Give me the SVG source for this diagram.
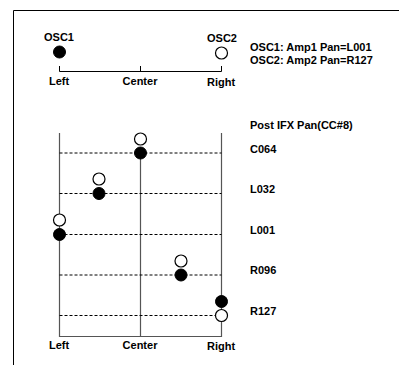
<svg xmlns="http://www.w3.org/2000/svg" width="399" height="365" viewBox="0 0 399 365">
<style>
text{font-family:"Liberation Sans",Arial,sans-serif;font-weight:bold;font-size:11px;fill:#000}
.m{text-anchor:middle}
.ln{stroke:#000;stroke-width:1;fill:none}
.ax{stroke:#555;stroke-width:1.2;fill:none}
.d{stroke:#000;stroke-width:1;stroke-dasharray:3,2;fill:none}
.f{fill:#000;stroke:#000;stroke-width:1}
.o{fill:#fff;stroke:#000;stroke-width:1.2}
</style>
<rect width="399" height="365" fill="#fff"/>
<g id="frame">
<path class="ln" d="M13.5,365 V10.5 H399" stroke-width="1.5"/>
</g>
<g id="top-axis">
<path class="ln" d="M59.5,66 V71.5 H221.5 V66 M140.5,66 V71.5" stroke-width="1.2"/>
<text class="m" x="59" y="84.5">Left</text>
<text class="m" x="140" y="84.5">Center</text>
<text class="m" x="221" y="85.5">Right</text>
</g>
<g id="osc1">
<text class="m" x="59" y="40.5">OSC1</text>
<circle class="f" cx="59.5" cy="52" r="6"/>
</g>
<g id="osc2">
<text class="m" x="222" y="42">OSC2</text>
<circle class="o" cx="221.5" cy="53" r="6"/>
</g>
<g id="legend">
<text x="250" y="51">OSC1: Amp1 Pan=L001</text>
<text x="250" y="63.5">OSC2: Amp2 Pan=R127</text>
<text x="250" y="129">Post IFX Pan(CC#8)</text>
</g>
<g id="connectors">
<path class="ax" d="M59.5,133 V336.5 H221.5 V133 M140.5,153 V336.5"/>
<path class="d" d="M59.5,153 H221.5 M59.5,193.5 H221.5 M59.5,234.5 H221.5 M59.5,275 H221.5 M59.5,315.5 H221.5"/>
</g>
<g id="c064">
<circle class="o" cx="140.5" cy="139" r="6"/>
<circle class="f" cx="140.5" cy="153" r="6"/>
<text x="250" y="152.5">C064</text>
</g>
<g id="l032">
<circle class="o" cx="99" cy="179" r="6"/>
<circle class="f" cx="99" cy="193.5" r="6"/>
<text x="250" y="192.5">L032</text>
</g>
<g id="l001">
<circle class="o" cx="59.5" cy="220" r="6"/>
<circle class="f" cx="59.5" cy="234.5" r="6"/>
<text x="250" y="233.5">L001</text>
</g>
<g id="r096">
<circle class="o" cx="181" cy="261" r="6"/>
<circle class="f" cx="181" cy="275" r="6"/>
<text x="250" y="273.5">R096</text>
</g>
<g id="r127">
<circle class="f" cx="221.5" cy="301.5" r="6"/>
<circle class="o" cx="221.5" cy="315.5" r="6"/>
<text x="250" y="314.5">R127</text>
</g>
<g id="bottom-labels">
<text class="m" x="59" y="348.5">Left</text>
<text class="m" x="140" y="348.5">Center</text>
<text class="m" x="221" y="349.5">Right</text>
</g>
</svg>
